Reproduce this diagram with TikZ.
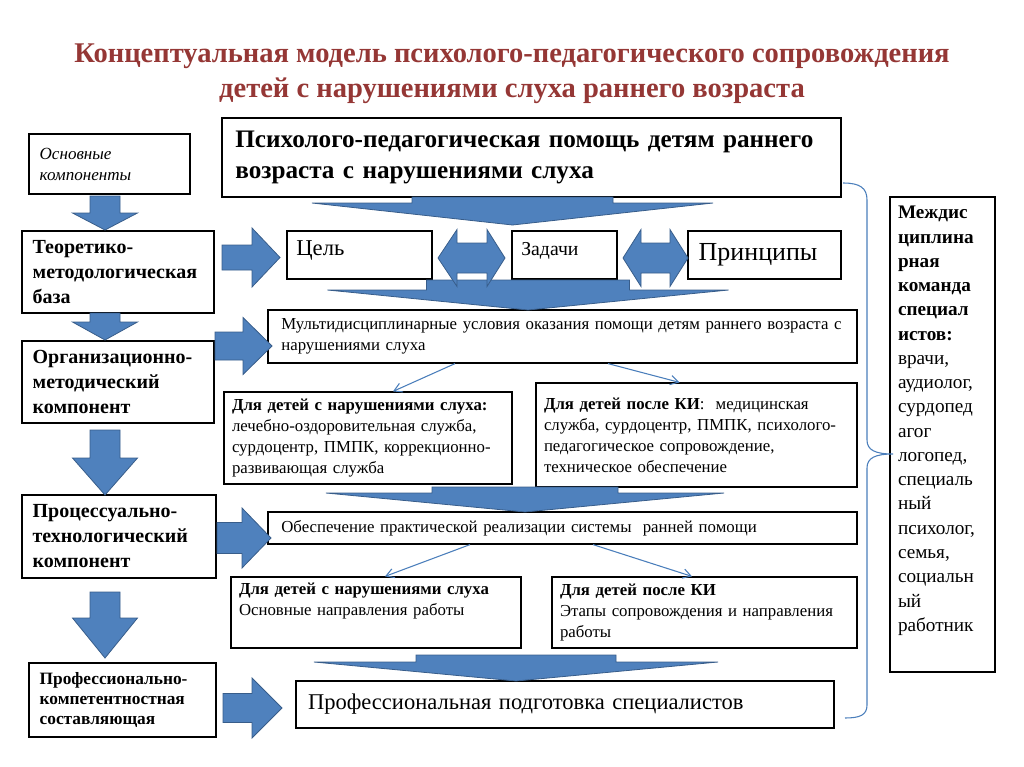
\documentclass[tikz,border=0pt]{standalone}
\usepackage{fontspec}
\IfFontExistsTF{LiberationSerif-Regular.ttf}{%
  \setmainfont{LiberationSerif-Regular.ttf}[BoldFont=LiberationSerif-Bold.ttf,
    ItalicFont=LiberationSerif-Italic.ttf, BoldItalicFont=LiberationSerif-BoldItalic.ttf]}{%
  \setmainfont{Liberation Serif}}
\usepackage{xcolor}
\usepackage{tikz}
\usetikzlibrary{arrows.meta,calc}

\definecolor{blkfill}{HTML}{4F81BD}
\definecolor{blkline}{HTML}{385D8A}
\definecolor{ttlred}{HTML}{953735}
\definecolor{thinblue}{HTML}{4A7EBB}

% block arrows: down, right, double
\newcommand{\blkdown}[6]{%
  \filldraw[blk] (#1-#2,#3) -- (#1+#2,#3) -- (#1+#2,#4) -- (#1+#5,#4) -- (#1,#6) -- (#1-#5,#4) -- (#1-#2,#4) -- cycle;}
\newcommand{\blkright}[6]{%
  \filldraw[blk] (#3,#1-#2) -- (#4,#1-#2) -- (#4,#1-#5) -- (#6,#1) -- (#4,#1+#5) -- (#4,#1+#2) -- (#3,#1+#2) -- cycle;}
\newcommand{\blkboth}[7]{%
  \filldraw[blk] (#4,#1) -- (#5,#1-#3) -- (#5,#1-#2) -- (#6,#1-#2) -- (#6,#1-#3) -- (#7,#1) -- (#6,#1+#3) -- (#6,#1+#2) -- (#5,#1+#2) -- (#5,#1+#3) -- cycle;}

\begin{document}
\begin{tikzpicture}[
  x=0.75pt, y=-0.75pt,
  box/.style={draw, line width=0.9pt, fill=white, inner xsep=6pt, inner ysep=2pt, align=left},
  lbox/.style={box, inner xsep=8pt, minimum width=144pt, minimum height=61.5pt, text width=128pt,
    font=\bfseries\fontsize{15}{18.75}\selectfont},
  sbox/.style={box, font=\fontsize{12.6}{15.75}\selectfont},
  blk/.style={fill=blkfill, draw=blkline, line width=0.6pt},
  thinarr/.style={-{Straight Barb[length=6pt,width=7pt]}, draw=thinblue, line width=0.8pt},
  brc/.style={draw=thinblue, line width=0.8pt}
]
\useasboundingbox (0,0) rectangle (1024,767);

% title
\node[font=\bfseries\fontsize{21.4}{26.5}\selectfont, text=ttlred, align=center] (ttl) at (512,73.5)
  {Концептуальная модель психолого-педагогического сопровождения\\детей с нарушениями слуха раннего возраста};

% left column
\node[box, inner xsep=8pt, minimum width=120.75pt, minimum height=45pt, text width=104.75pt,
  font=\itshape\fontsize{12.8}{15.75}\selectfont] (osn) at (109.5,164) {Основные\\компоненты};
\node[lbox] (teo) at (118,272) {Теоретико-\\методологическая\\база};
\node[lbox] (org) at (118,382) {Организационно-\\методический\\компонент};
\node[lbox, minimum width=145.5pt, minimum height=62.25pt, text width=129.5pt] (proc) at (119,536.5) {Процессуально-\\технологический\\компонент};
\node[box, inner xsep=8pt, minimum width=140.25pt, minimum height=55.5pt, text width=124.25pt,
  font=\bfseries\fontsize{13}{14.8}\selectfont] (prof) at (122.5,700) {Профессионально-\\компетентностная\\составляющая};

% middle column
\node[box, inner xsep=10pt, minimum width=464.25pt, minimum height=59.25pt, text width=444.25pt,
  font=\bfseries\fontsize{18.9}{23}\selectfont] (help) at (531.5,157.5)
  {Психолого-педагогическая помощь детям раннего\\возраста с нарушениями слуха};
\node[box, inner xsep=7pt, minimum width=108.75pt, minimum height=36pt, text width=94.75pt, text depth=10pt,
  font=\fontsize{17}{19}\selectfont] (goal) at (359.5,255) {Цель};
\node[box, inner xsep=7pt, minimum width=78.75pt, minimum height=36pt, text width=64.75pt, text depth=9pt,
  font=\fontsize{14.8}{17}\selectfont] (task) at (564.5,255) {Задачи};
\node[box, inner xsep=8pt, minimum width=114.75pt, minimum height=36pt, text width=98.75pt,
  font=\fontsize{19.5}{21}\selectfont] (princ) at (764.5,255) {Принципы};

\node[sbox, inner xsep=10pt, minimum width=441.75pt, minimum height=39.75pt, text width=421.75pt] (multi) at (562.5,336.5)
  {Мультидисциплинарные условия оказания помощи детям раннего возраста с\\нарушениями слуха};
\node[sbox, minimum width=216pt, minimum height=69pt, text width=204pt] (dl) at (368,438)
  {\textbf{Для детей с нарушениями слуха:}\\лечебно-оздоровительная служба,\\сурдоцентр, ПМПК, коррекционно-\\развивающая служба};
\node[sbox, minimum width=240.75pt, minimum height=78pt, text width=228.75pt] (dr) at (696.5,435)
  {\textbf{Для детей после КИ}:\ \ медицинская\\служба, сурдоцентр, ПМПК, психолого-\\педагогическое сопровождение,\\техническое обеспечение};

\node[sbox, inner xsep=10pt, minimum width=441.75pt, minimum height=24pt, text width=421.75pt] (prac) at (562.5,528)
  {Обеспечение практической реализации системы\ \ ранней помощи};
\node[sbox, minimum width=217.5pt, minimum height=53.25pt, text width=205.5pt] (pl) at (376,612.5)
  {\textbf{Для детей с нарушениями слуха}\\Основные направления работы\\\strut};
\node[sbox, minimum width=228.75pt, minimum height=53.25pt, text width=216.75pt] (pr) at (704.5,612.5)
  {\textbf{Для детей после КИ}\\Этапы сопровождения и направления\\работы};

\node[box, inner xsep=9pt, minimum width=403.5pt, minimum height=35.25pt, text width=385.5pt,
  font=\fontsize{16.9}{19}\selectfont] (train) at (565,704.5) {Профессиональная подготовка специалистов};

% right column
\node[box, inner xsep=6pt, minimum width=78.75pt, minimum height=356.25pt, text width=66.75pt,
  font=\fontsize{14.4}{18.2}\selectfont] (team) at (942.5,434.5)
  {\textbf{Междис}\\\textbf{циплина}\\\textbf{рная}\\\textbf{команда}\\\textbf{специал}\\\textbf{истов:}\\врачи,\\аудиолог,\\сурдопед\\агог\\логопед,\\специаль\\ный\\психолог,\\семья,\\социальн\\ый\\работник\\\strut};

% block arrows
\foreach \yt/\yh/\yp in {196/213/230, 313/322/340, 430/458/495, 592/618/658}
  {\blkdown{105}{15}{\yt}{\yh}{32.5}{\yp}}
\blkdown{512.5}{100.5}{197}{203}{200.5}{225}
\blkdown{528}{101.5}{280}{290}{200.5}{310}
\blkdown{525}{93}{487}{493}{199}{512}
\blkdown{516}{100}{655}{662}{202}{681}
\blkright{257.5}{12.5}{222}{252}{29.5}{280}
\blkright{346}{14}{215}{243}{28.5}{272}
\blkright{538}{15.5}{217}{242}{30}{271}
\blkright{708}{14.5}{223}{252}{30}{282}
\blkboth{258}{15}{28.5}{438}{457}{487}{505}
\blkboth{258}{15}{28.5}{623}{641}{670}{688}

% thin arrows
\draw[thinarr] ($(multi.south)+(-107.5,0)$) -- ($(dl.north)+(25,0)$);
\draw[thinarr] ($(multi.south)+(45.5,0)$) -- ($(dr.north)+(-17,0)$);
\draw[thinarr] ($(prac.south)+(-92.5,0)$) -- ($(pl.north)+(9,0)$);
\draw[thinarr] ($(prac.south)+(30.5,0)$) -- ($(pr.north)+(-12.5,0)$);

% brace
\draw[brc] (843,183) .. controls (860,183) and (867,188) .. (867,200) -- (867,440)
  .. controls (867,450) and (875,454) .. (893,454)
  .. controls (875,454) and (867,458) .. (867,468) -- (867,705)
  .. controls (867,715) and (860,718) .. (845,718);
\end{tikzpicture}
\end{document}
